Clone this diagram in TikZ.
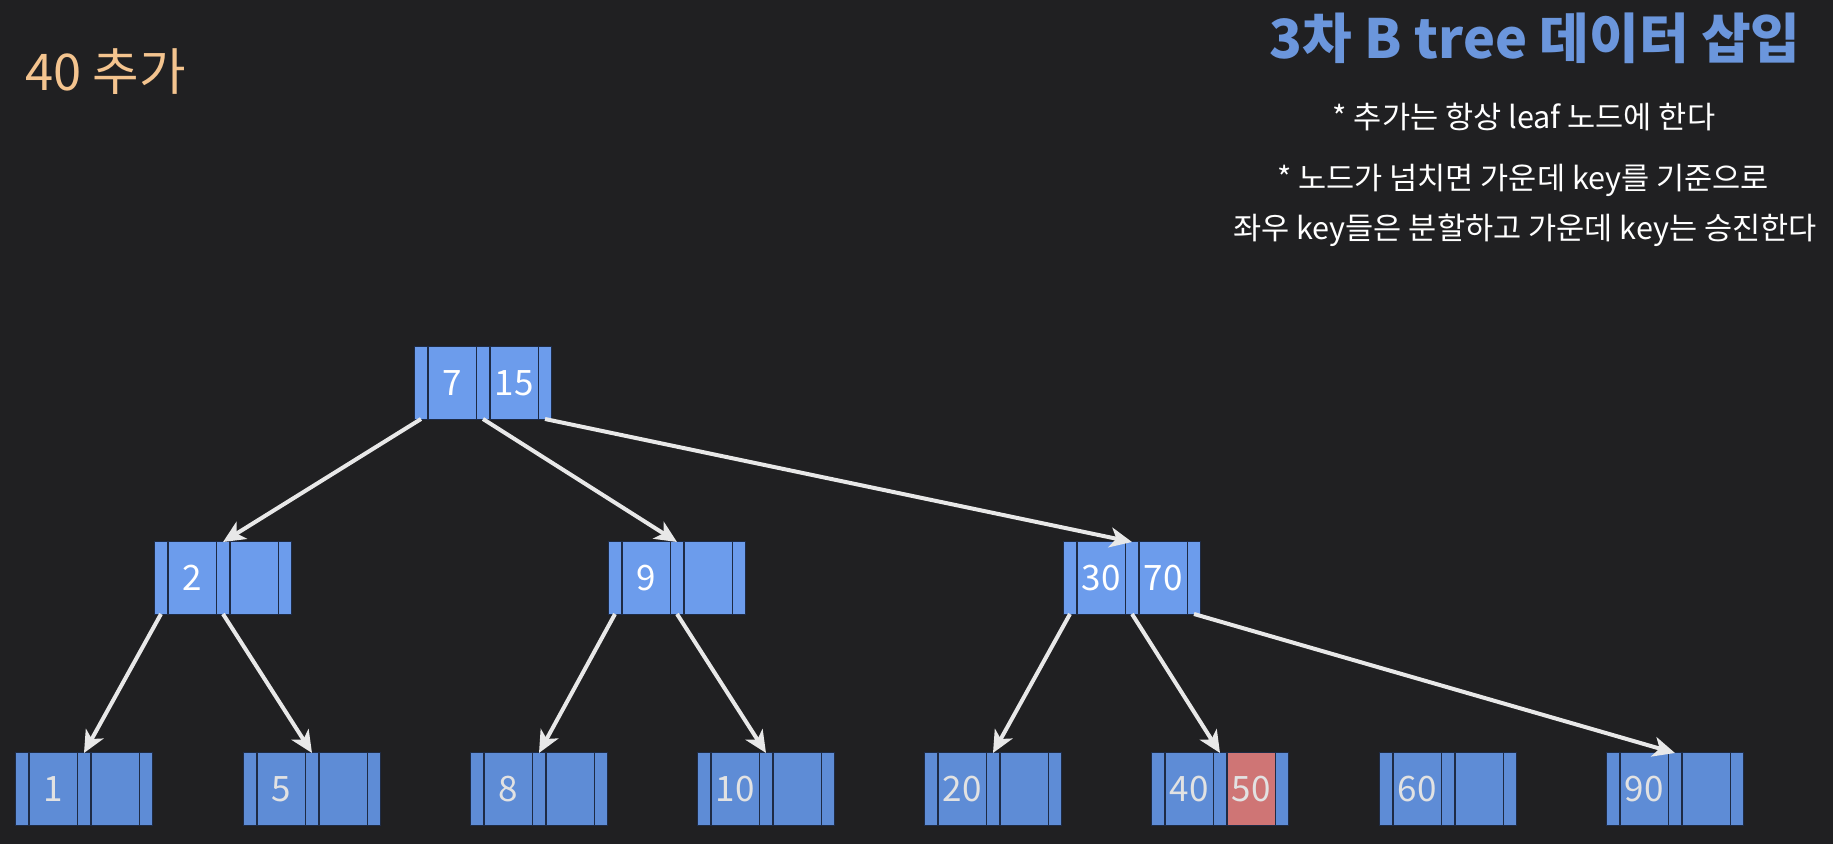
\documentclass[tikz,border=0pt]{standalone}
\usepackage{fontspec}
\setmainfont{Noto Sans CJK KR}
\newfontfamily\kr{Noto Sans CJK KR}
\usetikzlibrary{arrows.meta}
\definecolor{bg}{HTML}{202022}
\definecolor{cellhi}{HTML}{6C9CEC}
\definecolor{cellleaf}{HTML}{5E8CD6}
\definecolor{cellred}{HTML}{CF7575}
\definecolor{divider}{HTML}{1E2B45}
\definecolor{titleblue}{HTML}{6B96DC}
\definecolor{peach}{HTML}{F4C48F}
\definecolor{leaftext}{HTML}{E2E2E2}
\definecolor{arrowc}{HTML}{E8E8E8}
\tikzset{
  base/.style={inner sep=0pt, outer sep=0pt, minimum height=36pt},
  stripcell/.style={base, minimum width=6pt},
  keycell/.style={base, minimum width=23.5pt, font=\kr\fontsize{17.5pt}{20pt}\selectfont},
  framecell/.style={base, minimum width=68pt, fill=divider, draw=divider, line width=0.6pt},
  link/.style={draw=arrowc, line width=2pt, -{Stealth[length=11pt, width=10pt, inset=3pt]}},
  note/.style={text=white, font=\kr\fontsize{15.3pt}{18pt}\selectfont, inner sep=0pt}
}
\newcommand\bnode[8]{%
  \node[framecell] (#1) at ({#2+68},{#3+36}) {};
  \node[stripcell, fill=#6] (#1-p0) at ({#2+6},{#3+36}) {};
  \node[keycell, fill=#6, text=#8] (#1-k1) at ({#2+37},{#3+36}) {#4};
  \node[stripcell, fill=#6] (#1-p1) at ({#2+68},{#3+36}) {};
  \node[keycell, fill=#7, text=#8] (#1-k2) at ({#2+99},{#3+36}) {#5};
  \node[stripcell, fill=#6] (#1-p2) at ({#2+130},{#3+36}) {};
}
\begin{document}
\begin{tikzpicture}[x=0.5pt, y=-0.5pt]
\fill[bg] (0,0) rectangle (1833,844);
\useasboundingbox (0,0) rectangle (1833,844);

% texts
\node[anchor=west, text=peach, font=\kr\fontsize{25.3pt}{30pt}\selectfont, inner sep=0pt] (add) at (25,72) {40 추가};
\node[anchor=base east, text=titleblue, font=\kr\bfseries\fontsize{27pt}{32pt}\selectfont, inner sep=0pt] (title) at (1801,59) {3차 B tree 데이터 삽입};
\node[note] (n1) at (1524,117) {* 추가는 항상 leaf 노드에 한다};
\node[note] (n2t) at (1523,180) {* 노드가 넘치면 가운데 key를 기준으로};
\node[note] (n3t) at (1525,230) {좌우 key들은 분할하고 가운데 key는 승진한다};

% tree nodes
\bnode{root}{415}{347}{7}{15}{cellhi}{cellhi}{white}
\bnode{a}{155}{542}{2}{}{cellhi}{cellhi}{white}
\bnode{b}{609}{542}{9}{}{cellhi}{cellhi}{white}
\bnode{c}{1064}{542}{30}{70}{cellhi}{cellhi}{white}

\bnode{l1}{16}{753}{1}{}{cellleaf}{cellleaf}{leaftext}
\bnode{l5}{244}{753}{5}{}{cellleaf}{cellleaf}{leaftext}
\bnode{l8}{471}{753}{8}{}{cellleaf}{cellleaf}{leaftext}
\bnode{l10}{698}{753}{10}{}{cellleaf}{cellleaf}{leaftext}
\bnode{l20}{925}{753}{20}{}{cellleaf}{cellleaf}{leaftext}
\bnode{l40}{1152}{753}{40}{50}{cellleaf}{cellred}{leaftext}
\bnode{l60}{1380}{753}{60}{}{cellleaf}{cellleaf}{leaftext}
\bnode{l90}{1607}{753}{90}{}{cellleaf}{cellleaf}{leaftext}

% connectors
\draw[link] (root-p0.south) -- (a-p1.north);
\draw[link] (root-p1.south) -- (b-p1.north);
\draw[link] (root-p2.south) -- (c-p1.north);
\draw[link] (a-p0.south) -- (l1-p1.north);
\draw[link] (a-p1.south) -- (l5-p1.north);
\draw[link] (b-p0.south) -- (l8-p1.north);
\draw[link] (b-p1.south) -- (l10-p1.north);
\draw[link] (c-p0.south) -- (l20-p1.north);
\draw[link] (c-p1.south) -- (l40-p1.north);
\draw[link] (c-p2.south) -- (l90-p1.north);
\end{tikzpicture}
\end{document}
